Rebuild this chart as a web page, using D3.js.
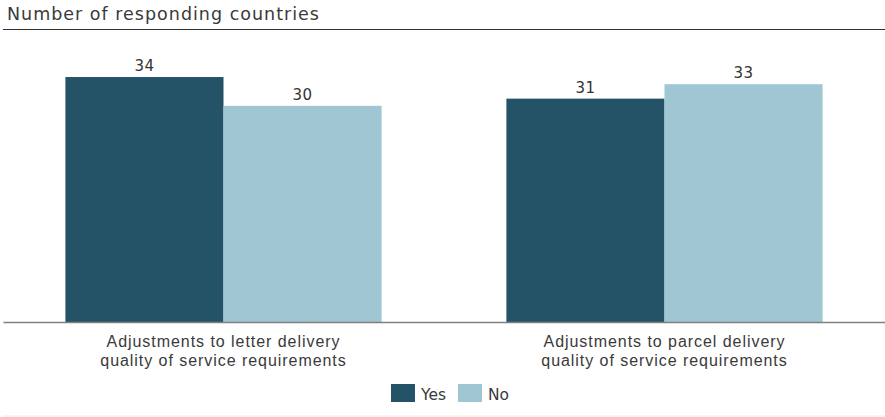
<!DOCTYPE html>
<html>
<head>
<meta charset="utf-8">
<script src="https://cdn.jsdelivr.net/npm/d3@7"></script>
<style>
  html, body { margin: 0; padding: 0; background: #fff; }
  svg { display: block; font-family: "DejaVu Sans", sans-serif; }
</style>
</head>
<body>
<svg id="chart" width="885" height="417"></svg>
<script>
// Survey answers per topic
const categories = [
  ["Adjustments to letter delivery", "quality of service requirements"],
  ["Adjustments to parcel delivery", "quality of service requirements"]
];
const seriesNames = ["Yes", "No"];
const yesValues = [34, 31];
const noValues = [30, 33];
const colors = ["#245367", "#a0c5d3"];
const titleText = "Number of responding countries";

const svg = d3.select("#chart");
const W = 885, H = 417;
const base = 322;

const rows = categories.map((c, i) => ({ key: i, label: c, values: [yesValues[i], noValues[i]] }));

const x0 = d3.scaleBand()
  .domain(rows.map(d => d.key))
  .range([3, 885])
  .paddingInner(0.283)
  .paddingOuter(0.1415);

const x1 = d3.scaleBand()
  .domain(seriesNames)
  .range([0, x0.bandwidth()])
  .padding(0);

const y = d3.scaleLinear().domain([0, 40]).range([base, base - 288.2]);

// Title and rule beneath it
svg.append("text")
  .attr("x", 7).attr("y", 20)
  .attr("fill", "#3a3a3a")
  .style("font-size", "17.5px")
  .style("letter-spacing", "1px")
  .text(titleText);
svg.append("line")
  .attr("x1", 3).attr("x2", W).attr("y1", 29.5).attr("y2", 29.5)
  .attr("stroke", "#333").attr("stroke-width", 1.2);

// Bars
const groups = svg.selectAll("g.grp").data(rows).join("g")
  .attr("class", "grp")
  .attr("transform", d => `translate(${x0(d.key)},0)`);

groups.selectAll("rect")
  .data(d => d.values.map((v, j) => ({ name: seriesNames[j], v, j })))
  .join("rect")
  .attr("x", d => x1(d.name))
  .attr("width", x1.bandwidth())
  .attr("y", d => y(d.v))
  .attr("height", d => y(0) - y(d.v))
  .attr("fill", d => colors[d.j]);

groups.selectAll("text.val")
  .data(d => d.values.map((v, j) => ({ name: seriesNames[j], v, j })))
  .join("text")
  .attr("class", "val")
  .attr("x", d => x1(d.name) + x1.bandwidth() / 2)
  .attr("y", d => y(d.v) - 6)
  .attr("text-anchor", "middle")
  .attr("fill", "#333")
  .style("font-size", "15px")
  .style("letter-spacing", "0.5px")
  .text(d => d.v);

// Category axis
const xAxis = d3.axisBottom(x0).tickSize(0).tickFormat("");
const axisG = svg.append("g").attr("transform", `translate(0,${base})`).call(xAxis);
axisG.select(".domain").attr("stroke", "#808080").attr("stroke-width", 1.5);

axisG.selectAll(".tick").each(function(k) {
  const t = d3.select(this).append("text")
    .attr("text-anchor", "middle")
    .attr("fill", "#3a3a3a")
    .style("font-size", "16px")
    .style("letter-spacing", "0.95px");
  rows[k].label.forEach((line, i) => {
    t.append("tspan").attr("x", 0).attr("y", 25 + i * 19).text(line);
  });
});

// Legend
const legend = svg.append("g").attr("transform", "translate(391,384)");
const items = [{ name: seriesNames[0], x: 0 }, { name: seriesNames[1], x: 67 }];
items.forEach((it, i) => {
  legend.append("rect").attr("x", it.x).attr("y", 0).attr("width", 24).attr("height", 18).attr("fill", colors[i]);
  legend.append("text").attr("x", it.x + 30).attr("y", 16)
    .attr("fill", "#3a3a3a").style("font-size", "15.5px").text(it.name);
});

// Bottom rule
svg.append("line")
  .attr("x1", 3).attr("x2", W).attr("y1", 416).attr("y2", 416)
  .attr("stroke", "#ececec").attr("stroke-width", 1);
</script>
</body>
</html>
